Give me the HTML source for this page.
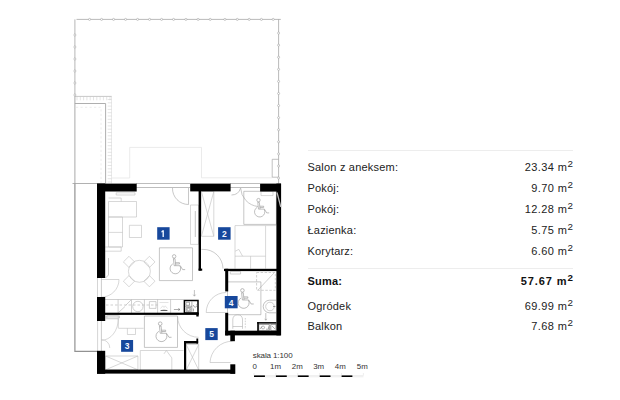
<!DOCTYPE html>
<html><head><meta charset="utf-8">
<style>
html,body{margin:0;padding:0;background:#fff;}
body{width:620px;height:400px;position:relative;overflow:hidden;font-family:"Liberation Sans",sans-serif;}
svg{position:absolute;left:0;top:0;}
.t{position:absolute;font-size:11px;color:#222;white-space:nowrap;line-height:1;}
.l{left:307.5px;letter-spacing:0.2px;}
.r{right:47px;text-align:right;letter-spacing:0.4px;}
.r sup{font-size:9.8px;position:relative;top:-3px;vertical-align:top;margin-left:0.2px;letter-spacing:0;}
.hr{position:absolute;left:307.8px;width:265.3px;height:1px;background:#ededed;}
.b{font-weight:bold;color:#111;}
.r.b{letter-spacing:0.9px;}
</style></head><body>
<svg width="620" height="400" viewBox="0 0 620 400">
<defs>
<g id="wc" fill="none" stroke="#9a9a9a" stroke-width="0.65">
 <circle cx="0" cy="0" r="1.75"/>
 <path d="M-0.75 2.3L0 9.3H1.6L0.85 2.3Z"/>
 <path d="M1.3 6.3H5.3V7.6H1.45"/>
 <path d="M-1.29 7.42A5.3 5.3 0 1 0 5.88 9.61"/>
 <path d="M1.6 9.3H6.1L8.5 13.2H11"/>
</g>
</defs>
<!-- terrace -->
<g fill="none" stroke="#9d9d9d" stroke-width="0.8">
  <path d="M76.5 19.4H280.8M278.6 19.4V183.5" stroke="#9c9c9c" stroke-width="0.7"/>
  <path d="M74.9 19.4V96.3" stroke="#a4a4a4" stroke-width="0.8"/>
  <path d="M74.9 96.3V183.5" stroke="#a0a0a0" stroke-width="0.9"/><path d="M74.9 183.5V351.3H97.3" stroke="#929292" stroke-width="1.2"/>
  <path d="M72.5 183.5H97"/>
  <path d="M74.9 96.4H111.8" stroke="#b2b2b2" stroke-width="0.7"/><path d="M111.5 96.4V183.5" stroke="#dadada" stroke-width="0.6"/>
  <path d="M77.0 96.3V100.3M80.3 96.3V100.3M83.6 96.3V100.3M86.9 96.3V100.3M90.2 96.3V100.3M93.5 96.3V100.3M96.8 96.3V100.3M100.1 96.3V100.3M103.4 96.3V100.3M106.7 96.3V100.3M110.0 96.3V100.3M107.7 99.5H111.5M107.7 102.8H111.5M107.7 106.1H111.5M107.7 109.4H111.5M107.7 112.7H111.5M107.7 116.0H111.5M107.7 119.3H111.5M107.7 122.6H111.5M107.7 125.9H111.5M107.7 129.2H111.5M107.7 132.5H111.5M107.7 135.8H111.5M107.7 139.1H111.5M107.7 142.4H111.5M107.7 145.7H111.5M107.7 149.0H111.5M107.7 152.3H111.5M107.7 155.6H111.5M107.7 158.9H111.5M107.7 162.2H111.5M107.7 165.5H111.5M107.7 168.8H111.5M107.7 172.1H111.5M107.7 175.4H111.5M107.7 178.7H111.5M107.7 182.0H111.5" stroke-width="0.5" stroke="#cbcbcb"/>
  <path d="M74.9 103.5H105.6V183.5" stroke="#a6a6a6" stroke-width="0.9"/>
  <path d="M76 107.3H101V183" stroke="#dcdcdc" stroke-width="0.55" stroke-dasharray="2.2 2.3"/>
  <path d="M112 178H129.7V147.4H201.5V177.8H272.2" stroke="#e2e2e2" stroke-width="0.7"/>
  <path d="M278.6 159.3H272.2V177.2H278.6" stroke="#a8a8a8" stroke-width="0.7"/>
</g>
<g fill="#fff" stroke="#999" stroke-width="0.5"><circle cx="89.6" cy="19.4" r="1.05"/><circle cx="101.6" cy="19.4" r="1.05"/><circle cx="113.6" cy="19.4" r="1.05"/><circle cx="125.6" cy="19.4" r="1.05"/><circle cx="137.6" cy="19.4" r="1.05"/><circle cx="149.6" cy="19.4" r="1.05"/><circle cx="161.6" cy="19.4" r="1.05"/><circle cx="173.6" cy="19.4" r="1.05"/><circle cx="185.9" cy="19.4" r="1.05"/><circle cx="198.1" cy="19.4" r="1.05"/><circle cx="210.2" cy="19.4" r="1.05"/><circle cx="224.9" cy="19.4" r="1.05"/><circle cx="237.3" cy="19.4" r="1.05"/><circle cx="249.2" cy="19.4" r="1.05"/><circle cx="261.4" cy="19.4" r="1.05"/><circle cx="273.2" cy="19.4" r="1.05"/><circle cx="74.9" cy="35" r="1.05"/><circle cx="74.9" cy="47" r="1.05"/><circle cx="74.9" cy="59" r="1.05"/><circle cx="74.9" cy="71" r="1.05"/><circle cx="74.9" cy="83" r="1.05"/><circle cx="74.9" cy="95" r="1.05"/><circle cx="278.6" cy="33.1" r="1.05"/><circle cx="278.6" cy="45.18" r="1.05"/><circle cx="278.6" cy="57.26" r="1.05"/><circle cx="278.6" cy="69.34" r="1.05"/><circle cx="278.6" cy="81.42" r="1.05"/><circle cx="278.6" cy="93.5" r="1.05"/><circle cx="278.6" cy="105.58" r="1.05"/><circle cx="278.6" cy="117.66" r="1.05"/><circle cx="278.6" cy="129.74" r="1.05"/><circle cx="278.6" cy="141.82" r="1.05"/><circle cx="278.6" cy="153.9" r="1.05"/><circle cx="278.6" cy="165.98" r="1.05"/><circle cx="278.6" cy="178.06" r="1.05"/></g>
<!-- windows -->
<g fill="none" stroke="#a0a0a0" stroke-width="0.7">
  <path d="M136 183.5H190M136 187.5H190M230 183.5H260M230 187.5H260"/>
  <path d="M172.5 188A16 16 0 0 0 188.5 204.5V188" stroke="#b0b0b0"/>
  <path d="M231.5 195A9.5 9.5 0 0 0 240.6 188M240.6 188A19.5 19.5 0 0 0 258 206.5" stroke="#b0b0b0"/>
</g>
<!-- furniture room1 -->
<g fill="none" stroke="#bdbdbd" stroke-width="0.6">
  <path d="M116.2 192.8H135V195H116.2Z"/>
  <path d="M108.5 198H121.2V201.5"/>
  <path d="M108.5 201.5H136.5V217H108.5Z"/>
  <path d="M108.5 217H122.5V247H108.5ZM108.5 232.4H122.5"/>
  <path d="M105.2 247H121.2V251.2H105.2"/>
  <path d="M129.4 225.3H141.5V237.5H129.4Z"/>
  <circle cx="139.4" cy="271.3" r="11"/>
  <path d="M129 256.3L134.6 261.9L129 267.5L123.4 261.9Z"/>
  <path d="M149.4 256.3L155 261.9L149.4 267.5L143.8 261.9Z"/>
  <path d="M129 275.6L134.6 281.2L129 286.8L123.4 281.2Z"/>
  <path d="M149.4 275.6L155 281.2L149.4 286.8L143.8 281.2Z"/>
  <path d="M159.4 247.8H192.5V280.6H159.4Z" stroke="#a0a0a0"/>
  <path d="M190.5 205H198.5V244.4H190.5Z"/>
  <path d="M195.3 211V237" stroke-width="0.9"/>
  <path d="M119 279.5H101.4M119 279.5A17.6 17.6 0 0 1 101.4 297.1" />
  <path d="M101.4 278V297.4M108.5 258V275L105.5 278" stroke="#a8a8a8"/>
  <path d="M97.5 278V297.4" stroke="#d0d0d0" stroke-width="0.9"/>
</g>
<!-- kitchen -->
<g fill="none" stroke="#b0b0b0" stroke-width="0.6">
  <path d="M105 299.5H183.7"/>
  <path d="M118.1 299.5V313M131.5 299.5V313M144.4 299.5V313M157.6 299.5V313M170.6 299.5V313"/>
  <path d="M106 305H157.6" stroke-dasharray="2.5 2"/>
  <path d="M118.5 312.5L125 306.5M125.5 305.5L131 300"/>
  <circle cx="137.9" cy="306.5" r="5.2"/>
  <path d="M149.4 301.6H156V308.4H149.4Z"/>
  <ellipse cx="164" cy="310.4" rx="3.8" ry="0.65" fill="#666" stroke="none"/><path d="M160.5 308.5L162.8 305.8L164 307.5L165.2 305.8L167.5 308.5M159.5 302.5H168.5" stroke="#c8c8c8" stroke-width="0.5"/>
  <path d="M173.9 309.5H179.9M178.3 308.4L180 309.5L178.3 310.6" stroke="#666" stroke-width="0.55"/>
  <path d="M194.4 290V296M193.2 294.6L194.4 296.2L195.6 294.6" stroke="#999"/>
  <path d="M106.9 315.8H119.4V318H106.9Z"/>
</g>
<g fill="none" stroke="#000" stroke-width="1.5">
  <path d="M184.4 300.4H198V313H184.4Z"/>
</g>
<g fill="none" stroke="#666" stroke-width="0.55">
  <path d="M191.9 301.5V312.3M185.2 306.3H191.9M186 302.3H189.5V305.3H186ZM186.3 307.5H190.8V311.6H186.3Z"/>
  <circle cx="188.5" cy="309.5" r="1.3"/>
  <path d="M193.5 305A1.8 1.8 0 1 0 196.5 304M193.5 308.5V311.5"/>
</g>
<!-- room 2 -->
<g fill="none" stroke="#bdbdbd" stroke-width="0.6">
  <path d="M201.4 191.5H213.8V236.3H201.4ZM201.4 191.5L213.8 236.3M213.8 191.5L201.4 236.3"/>
  <path d="M243.8 191.3H276.4V224.4H243.8Z" stroke="#a0a0a0"/>
  <path d="M261 191.5H273V195.6H261Z"/>
  <path d="M235 225.6H265.6V268.6M235 225.6V268.6M235 256.2H265.6M250.6 256.2V268.6M265.6 225.6H276.4"/>
  <path d="M235.2 251.2L238.8 249.4L242.6 256.2"/>
  <path d="M203 249.4A19.5 19.5 0 0 1 223 268.6M201.4 249.4H203" stroke="#aaa"/>
</g>
<!-- room 3 -->
<g fill="none" stroke="#bdbdbd" stroke-width="0.6">
  <path d="M101.4 321V351" stroke="#a8a8a8"/><path d="M97.6 321V351" stroke="#d0d0d0" stroke-width="0.9"/>
  <path d="M118.3 318.8V328.3M118.3 318.8A16.9 21.5 0 0 1 101.4 340.3"/>
  <path d="M101.4 339.6A8.4 8.4 0 0 1 109.8 348"/>
  <path d="M106 316H118.3V318.8H106Z"/>
  <path d="M118.6 328.3H143.6"/>
  <path d="M127.4 328.3V334.5H135.5V328.3"/>
  <path d="M144.4 316H177.5V347.4H144.4Z" stroke="#a0a0a0"/>
  <path d="M105.6 356H137.9V369.8H105.6ZM105.6 356L137.9 369.8M137.9 356L105.6 369.8"/>
  <path d="M140.3 350.5H183.5M140.3 350.5V370M171.8 357.9V370"/>
  <path d="M164 353.8L166.4 350.5L171.8 357.9"/>
  <path d="M186.2 344.5H198.7V370H186.2ZM186.2 344.5L198.7 370M198.7 344.5L186.2 370"/>
</g>
<!-- bathroom -->
<g fill="none" stroke="#b0b0b0" stroke-width="0.6">
  <path d="M230.3 271.6H240.6V274H230.3Z"/>
  <path d="M256.6 272.5H275.3V290.3H256.6Z" stroke-dasharray="2.5 1.5"/>
  <path d="M258 290L274 273"/>
  <path d="M227.5 281.9H260.9V314.7H227.5Z" stroke="#a0a0a0"/>
  <path d="M276 300.2H269.5A6.3 6.3 0 0 0 269.5 312.8H276" stroke="#999"/><circle cx="270" cy="306.5" r="4.3"/><path d="M273 306.5H275.5" stroke="#666"/>
  <path d="M265.8 313V320M264.8 318.8L265.8 320.3L266.8 318.8" stroke="#999"/>
  <path d="M232.8 328.8V319A4.9 4.9 0 0 1 242.5 319V328.8M232.8 326.5H242.5"/>
  <path d="M245.3 318V329" stroke-dasharray="1.5 1.2"/>
  <path d="M258.8 324.4H269.3V330.7H258.8ZM270.8 324.4H276V330.7H270.8Z" stroke="#555"/>
  <path d="M260 329L262 326.5M263 329A1.5 1.5 0 1 1 263.1 329M266 329.2H268.5V326.5M272 326L275 329" stroke="#666" stroke-width="0.5"/>
  <path d="M210 362.5A22.5 22.5 0 0 1 232.5 341.2M210 362.5H230.5" stroke="#b8b8b8"/>
  <path d="M206.2 312.5A20 20 0 0 1 226.2 292.5M206.2 312.5H225.2" stroke="#b8b8b8"/>
  <path d="M177.6 316.3A21 21 0 0 0 198.6 337.3" stroke="#b8b8b8"/>
</g>
<g fill="#000">
  <rect x="257.2" y="322.1" width="19.2" height="1.5"/>
  <rect x="257.2" y="322.1" width="1.6" height="9"/>
</g>
<use href="#wc" transform="translate(174.15 256.4) scale(1.0)"/>
<use href="#wc" transform="translate(258.5 200.1) scale(0.97)"/>
<use href="#wc" transform="translate(160.2 323.7) scale(1.03)"/>
<use href="#wc" transform="translate(242.4 290.4) scale(1.03)"/>
<!-- walls -->
<g fill="#000">
  <rect x="97" y="183.6" width="39.7" height="7.9"/>
  <rect x="97" y="183.5" width="8.2" height="94.5"/>
  <rect x="97" y="297" width="8.2" height="24"/>
  <rect x="97" y="350.8" width="8.2" height="23"/>
  <rect x="97" y="369.6" width="138" height="4"/>
  <rect x="190.2" y="183.6" width="40.4" height="7.8"/>
  <rect x="260.1" y="183.6" width="20.9" height="7.9"/>
  <rect x="276.4" y="183.6" width="4.7" height="151.8"/>
  <rect x="198.6" y="191" width="2.4" height="79.5"/>
  <rect x="198.6" y="268.6" width="3.6" height="2.1"/>
  <rect x="224" y="268.8" width="56" height="2.3"/>
  <rect x="225.2" y="268.8" width="3" height="22.6"/>
  <rect x="225.2" y="312.8" width="3" height="22.6"/>
  <rect x="225.2" y="330.7" width="55.4" height="4.7"/>
  <rect x="230.3" y="330.7" width="4.6" height="10.5"/>
  <rect x="230.3" y="364.3" width="5" height="9.5"/>
  <rect x="105" y="312.7" width="93.7" height="2.2"/>
  <rect x="196.3" y="312.7" width="2.4" height="3.8"/>
  <rect x="184" y="341" width="14.1" height="2.5"/>
  <rect x="196.4" y="338.5" width="1.8" height="5"/>
  <rect x="184" y="341" width="2.1" height="30"/>
</g>
<path d="M277 192.5L280.8 207" stroke="#b8b8b8" stroke-width="1.3" fill="none"/>
<rect x="157.2" y="227.2" width="12.4" height="12.5" fill="#17489c"/><path d="M162.5 230.3H163.9V236.9H162.5V232L161.4 232.5V231.3Z" fill="#eef4ff"/>
<rect x="218.1" y="227.2" width="12.5" height="12.5" fill="#17489c"/><text transform="translate(224.35 236.95) scale(0.86 1)" text-anchor="middle" font-family="Liberation Sans" font-weight="bold" font-size="9.9" fill="#f4f8ff">2</text>
<rect x="121.1" y="340.0" width="12.0" height="11.8" fill="#17489c"/><text transform="translate(127.10 349.05) scale(0.86 1)" text-anchor="middle" font-family="Liberation Sans" font-weight="bold" font-size="9.9" fill="#f4f8ff">3</text>
<rect x="224.8" y="296.0" width="12.8" height="12.3" fill="#17489c"/><text transform="translate(231.20 305.55) scale(0.86 1)" text-anchor="middle" font-family="Liberation Sans" font-weight="bold" font-size="9.9" fill="#f4f8ff">4</text>
<rect x="205.3" y="328.1" width="12.4" height="12.0" fill="#17489c"/><text transform="translate(211.50 337.35) scale(0.86 1)" text-anchor="middle" font-family="Liberation Sans" font-weight="bold" font-size="9.9" fill="#f4f8ff">5</text>
<!-- scale -->
<g fill="#000"><rect x="254.00" y="375.4" width="10.94" height="1.6"/><rect x="275.88" y="375.4" width="10.94" height="1.6"/><rect x="297.76" y="375.4" width="10.94" height="1.6"/><rect x="319.64" y="375.4" width="10.94" height="1.6"/><rect x="341.52" y="375.4" width="10.94" height="1.6"/></g><g fill="none" stroke="#cfcfcf" stroke-width="0.35"><path d="M264.94 375.6H275.88M264.94 376.8H275.88"/><path d="M286.82 375.6H297.76M286.82 376.8H297.76"/><path d="M308.70 375.6H319.64M308.70 376.8H319.64"/><path d="M330.58 375.6H341.52M330.58 376.8H341.52"/><path d="M352.46 375.6H363.40M352.46 376.8H363.40"/><path d="M254.00 373V375.4"/><path d="M275.88 373V375.4"/><path d="M297.76 373V375.4"/><path d="M319.64 373V375.4"/><path d="M341.52 373V375.4"/><path d="M363.40 373V375.4"/></g><g font-family="Liberation Sans" font-size="7.9" fill="#333">
<text x="252.8" y="358.2" font-size="8" textLength="39.8">skala 1:100</text>
<text x="252.5" y="368.6">0</text>
<text x="270" y="368.6">1m</text>
<text x="291.8" y="368.6">2m</text>
<text x="313.2" y="368.6">3m</text>
<text x="334.8" y="368.6">4m</text>
<text x="356.8" y="368.6">5m</text>
</g>
</svg>
<div class="hr" style="top:150px"></div>
<div class="t l" style="top:162px">Salon z aneksem:</div><div class="t r" style="top:162px">23.34 m<sup>2</sup></div>
<div class="t l" style="top:183px">Pokój:</div><div class="t r" style="top:183px">9.70 m<sup>2</sup></div>
<div class="t l" style="top:204px">Pokój:</div><div class="t r" style="top:204px">12.28 m<sup>2</sup></div>
<div class="t l" style="top:225px">Łazienka:</div><div class="t r" style="top:225px">5.75 m<sup>2</sup></div>
<div class="t l" style="top:246px">Korytarz:</div><div class="t r" style="top:246px">6.60 m<sup>2</sup></div>
<div class="hr" style="top:268px"></div>
<div class="t l b" style="top:276px">Suma:</div><div class="t r b" style="top:276px">57.67 m<sup>2</sup></div>
<div class="t l" style="top:301px">Ogródek</div><div class="t r" style="top:301px">69.99 m<sup>2</sup></div>
<div class="t l" style="top:321px">Balkon</div><div class="t r" style="top:321px">7.68 m<sup>2</sup></div>
</body></html>
